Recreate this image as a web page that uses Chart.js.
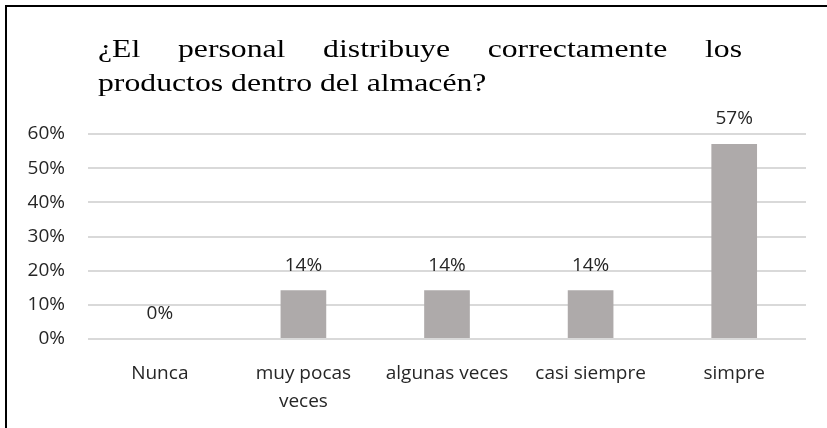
<!DOCTYPE html>
<html>
<head>
<meta charset="utf-8">
<script src="https://cdn.jsdelivr.net/npm/chart.js@4.4.0/dist/chart.umd.min.js"></script>
<style>
    html, body { margin: 0; padding: 0; background: #fff; overflow: hidden; }
    #wrap { position: relative; width: 827px; height: 428px; overflow: hidden; }
    #frame { position: absolute; left: 5px; top: 5px; width: 840px; height: 440px;
             border-top: 2px solid #000; border-left: 2px solid #000; }
    canvas { position: absolute; left: 0; top: 0; }
</style>
</head>
<body>
<div id="wrap">
    <div id="frame"></div>
    <canvas id="chart" width="827" height="428"></canvas>
</div>
<script>
// chart data
const categories = ['Nunca', ['muy pocas', 'veces'], 'algunas veces', 'casi siempre', 'simpre'];
const percentValues = [0, 14.3, 14.3, 14.3, 57.1];
const yTicks = [0, 10, 20, 30, 40, 50, 60];
const titleLines = ['¿El personal distribuye correctamente los', 'productos dentro del almacén?'];

const TEXT_COLOR = '#262626';
const BAR_COLOR = '#aeaaaa';
const LABEL_FONT = '"Open Sans", Lato, sans-serif';
// the original picture is a bit wider than tall, text looks stretched
const STRETCH = 1.22;

Chart.defaults.font.family = LABEL_FONT;
Chart.defaults.font.size = 19;
Chart.defaults.color = TEXT_COLOR;

// title is justified like the word doc, so draw it by hand
const justifiedTitle = {
    id: 'justifiedTitle',
    afterDraw(chart) {
        const ctx = chart.ctx;
        const left = 98, right = 742;
        ctx.save();
        ctx.translate(left, 0);
        ctx.scale(STRETCH, 1);
        ctx.font = '26px "Liberation Serif", "Times New Roman", serif';
        ctx.fillStyle = '#000';
        ctx.textBaseline = 'alphabetic';
        ctx.textAlign = 'left';
        const width = (right - left) / STRETCH;
        const words = titleLines[0].split(' ');
        let total = 0;
        words.forEach(function (w) { total += ctx.measureText(w).width; });
        const gap = (width - total) / (words.length - 1);
        let x = 0;
        words.forEach(function (w) {
            ctx.fillText(w, x, 57);
            x += ctx.measureText(w).width + gap;
        });
        ctx.fillText(titleLines[1], 0, 91);
        ctx.restore();
    }
};

// value labels above the bars
const barLabels = {
    id: 'barLabels',
    afterDatasetsDraw(chart) {
        const ctx = chart.ctx;
        const meta = chart.getDatasetMeta(0);
        ctx.save();
        ctx.font = '19px ' + LABEL_FONT;
        ctx.fillStyle = TEXT_COLOR;
        ctx.textAlign = 'center';
        ctx.textBaseline = 'middle';
        meta.data.forEach(function (bar, i) {
            ctx.fillText(Math.round(percentValues[i]) + '%', bar.x, bar.y - 25);
        });
        ctx.restore();
    }
};

const chart = new Chart(document.getElementById('chart'), {
    type: 'bar',
    data: {
        labels: categories,
        datasets: [{
            data: percentValues,
            backgroundColor: BAR_COLOR,
            borderWidth: 0,
            barPercentage: 0.318,
            categoryPercentage: 1
        }]
    },
    options: {
        responsive: false,
        animation: false,
        events: [],
        layout: { padding: { top: 134, right: 21, bottom: 0, left: 0 } },
        plugins: {
            legend: { display: false },
            title: { display: false },
            tooltip: { enabled: false }
        },
        scales: {
            x: {
                grid: { display: false },
                border: { display: false },
                ticks: {
                    padding: 12,
                    maxRotation: 0,
                    autoSkip: false,
                    font: { lineHeight: 1.5 }
                },
                afterFit(scale) { scale.height = 89; }
            },
            y: {
                min: 0,
                max: 60,
                grid: { color: '#d9d9d9', lineWidth: 2, drawTicks: false },
                border: { display: false },
                ticks: {
                    padding: 23,
                    callback: function (v) { return v + '%'; }
                },
                afterBuildTicks(scale) {
                    scale.ticks = yTicks.map(function (v) { return { value: v }; });
                },
                afterFit(scale) { scale.width = 88; }
            }
        }
    },
    plugins: [justifiedTitle, barLabels]
});
</script>
</body>
</html>
